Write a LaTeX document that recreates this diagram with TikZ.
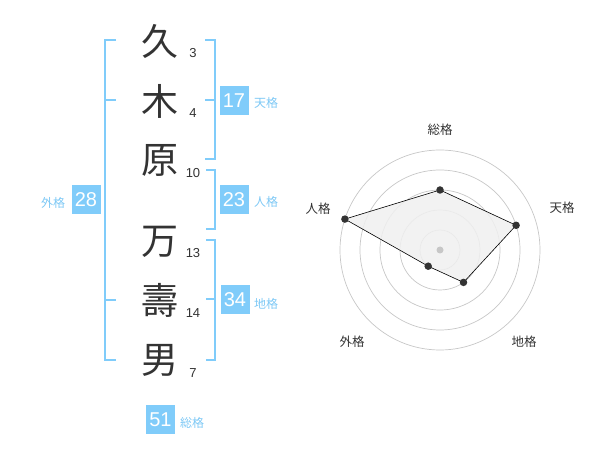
\documentclass[tikz,border=0pt]{standalone}
\usepackage{fontspec}
\setmainfont{Liberation Sans}
\newfontfamily\cjk{Noto Sans CJK JP}
\definecolor{kblue}{RGB}{128,204,250}
\definecolor{lblue}{RGB}{125,200,245}
\definecolor{ink}{RGB}{51,51,51}
\begin{document}
\begin{tikzpicture}[x=1pt,y=-1pt,
  kanji/.style={font=\cjk\fontsize{37}{37}\selectfont, text=ink, inner sep=0},
  strokenum/.style={font=\fontsize{13}{13}\selectfont, text=ink, inner sep=0},
  numbox/.style={fill=kblue, text=white, minimum width=29pt, minimum height=29pt, inner sep=0, font=\fontsize{20}{20}\selectfont},
  kaku/.style={font=\cjk\fontsize{12}{12}\selectfont, text=lblue, inner sep=0},
  brk/.style={draw=kblue, line width=2pt},
  ring/.style={draw=black!22, line width=0.7pt},
  axlabel/.style={font=\cjk\fontsize{12.5}{12.5}\selectfont, text=ink, inner sep=0},
  dot/.style={circle, fill=ink, inner sep=0, minimum size=7.5pt}]
\useasboundingbox (0,0) rectangle (600,470);
% kanji
\node[kanji] (k1) at (160,41.7) {久};
\node[kanji] (k2) at (160,101.7) {木};
\node[kanji] (k3) at (160,160) {原};
\node[kanji] (k4) at (160,241.7) {万};
\node[kanji] (k5) at (160,300) {壽};
\node[kanji] (k6) at (160,360) {男};
% stroke counts
\node[strokenum] (s1) at (193,53) {3};
\node[strokenum] (s2) at (193,113) {4};
\node[strokenum] (s3) at (193,173) {10};
\node[strokenum] (s4) at (193,253) {13};
\node[strokenum] (s5) at (193,313) {14};
\node[strokenum] (s6) at (193,373) {7};
% brackets
\draw[brk] (116,40) -- (105,40) -- (105,360) -- (116,360);
\draw[brk] (105,100) -- (116,100);
\draw[brk] (105,300) -- (116,300);
\draw[brk] (205,40) -- (215,40) -- (215,159.5) -- (205,159.5);
\draw[brk] (205,100) -- (215,100);
\draw[brk] (206,170.5) -- (215,170.5) -- (215,229.5) -- (206,229.5);
\draw[brk] (206,240) -- (215,240) -- (215,360) -- (206,360);
\draw[brk] (206,299.5) -- (215,299.5);
% boxes
\node[numbox] (b17) at (234,100.5) {17};
\node[kaku] (l17) at (266,103) {天格};
\node[numbox] (b23) at (234,200) {23};
\node[kaku] (l23) at (266,202) {人格};
\node[numbox] (b28) at (86,200) {28};
\node[kaku] (l28) at (53,203) {外格};
\node[numbox] (b34) at (235,300) {34};
\node[kaku] (l34) at (266,304) {地格};
\node[numbox] (b51) at (160.5,419.5) {51};
\node[kaku] (l51) at (192,423) {総格};
% radar
\coordinate (c) at (440,250);
\foreach \r in {20,40,60,80,100} \draw[ring] (c) circle[radius=\r];
\coordinate (pten) at (516.1,225.3);
\coordinate (psou) at (440,190);
\coordinate (pjin) at (344.9,219.1);
\coordinate (pgai) at (428.2,266.2);
\coordinate (pchi) at (463.5,282.4);
\draw[fill=black!6, fill opacity=0.85, draw=black, line width=0.6pt] (psou) -- (pten) -- (pchi) -- (pgai) -- (pjin) -- cycle;
\fill[black!22] (c) circle[radius=3.5];
\foreach \p in {pten,psou,pjin,pgai,pchi} \node[dot] at (\p) {};
\node[axlabel] (asou) at (440,130) {総格};
\node[axlabel] (aten) at (562,208) {天格};
\node[axlabel] (ajin) at (318,209) {人格};
\node[axlabel] (agai) at (352,342) {外格};
\node[axlabel] (achi) at (524,342) {地格};
\end{tikzpicture}
\end{document}
